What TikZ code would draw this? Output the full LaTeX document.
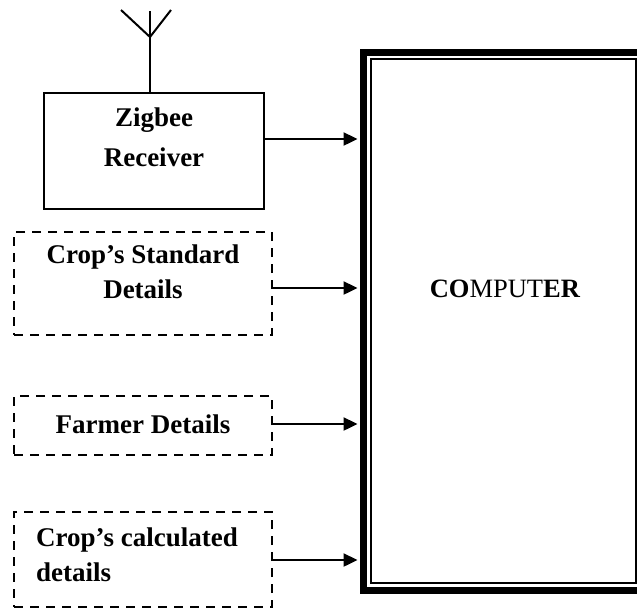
\documentclass[tikz,border=0pt]{standalone}
\usepackage{fontspec}
\setmainfont{Liberation Serif}
\usetikzlibrary{arrows.meta}
\begin{document}
\begin{tikzpicture}[x=1pt,y=-1pt,
  lbl/.style={font=\fontsize{27}{35}\selectfont\bfseries, align=center, inner sep=0},
  solidbox/.style={draw, line width=2pt, inner sep=0, outer sep=0},
  dashbox/.style={draw, line width=2.5pt, dash pattern=on 9pt off 7pt, inner sep=0, outer sep=0},
  arr/.style={-{Triangle[length=14pt,width=13pt]}, line width=2.4pt, shorten >=5.5pt},
  antline/.style={line width=2pt}
]
\useasboundingbox (0,0) rectangle (637,614);
\clip (0,0) rectangle (637,614);
% computer
\node[draw, line width=7pt, minimum width=281pt, minimum height=538pt, inner sep=0, outer sep=0] (comp) at (503.5,321) {};
\node[draw, line width=1.5pt, minimum width=265pt, minimum height=524pt, inner sep=0] (compin) at (503.5,321) {};
\node[lbl, font=\fontsize{26.5}{34}\selectfont] (comptxt) at (505,289) {\textbf{CO}MPUT\textbf{ER}};
% zigbee
\node[solidbox, minimum width=220pt, minimum height=116pt] (zig) at (154,151) {};
\node[lbl, font=\fontsize{27}{40}\selectfont\bfseries] (zigtxt) at (154,137) {Zigbee\\Receiver};
% antenna
\coordinate (anttop) at (150,11);
\coordinate (antv) at (150,37);
\coordinate (antl) at (121,10);
\coordinate (antr) at (171,10);
\coordinate (antbot) at (150,93);
\draw[antline] (anttop) -- (antbot);
\draw[antline] (antl) -- (antv) -- (antr);
% dashed boxes
\node[dashbox, minimum width=258pt, minimum height=103pt] (std) at (143,283.5) {};
\node[lbl] (stdtxt) at (143,272) {Crop’s Standard\\Details};
\node[dashbox, minimum width=258pt, minimum height=59pt] (farm) at (143,425.5) {};
\node[lbl] (farmtxt) at (143,424) {Farmer Details};
\node[dashbox, minimum width=258pt, minimum height=95pt] (calc) at (143,559.5) {};
\node[lbl, align=left, anchor=west] (calctxt) at (36,555) {Crop’s calculated\\details};
% arrows
\path ([yshift=12pt]zig.east) coordinate (s1);
\path ([yshift=-4.5pt]std.east) coordinate (s2);
\path ([yshift=1.5pt]farm.east) coordinate (s3);
\path ([yshift=-0.5pt]calc.east) coordinate (s4);
\draw[arr] (s1) -- (s1 -| comp.west);
\draw[arr] (s2) -- (s2 -| comp.west);
\draw[arr] (s3) -- (s3 -| comp.west);
\draw[arr] (s4) -- (s4 -| comp.west);
\end{tikzpicture}
\end{document}
